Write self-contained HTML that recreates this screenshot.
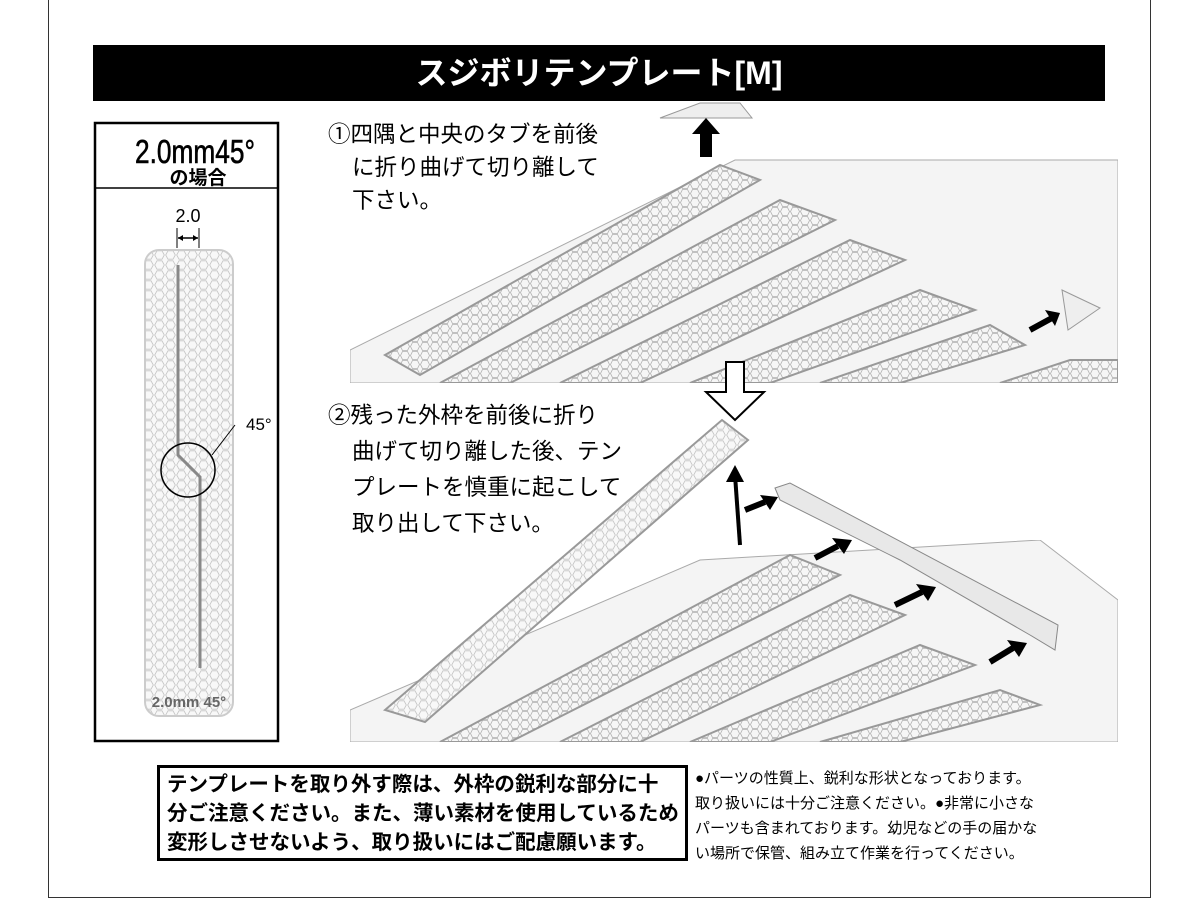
<!DOCTYPE html>
<html><head><meta charset="utf-8"><style>
body{margin:0;background:#fff;width:1200px;height:900px;position:relative;overflow:hidden;font-family:"Liberation Sans","Noto Sans CJK JP",sans-serif;}
.abs{position:absolute;white-space:nowrap;}
</style></head><body>
<div class="abs" style="left:48px;top:-2px;width:1101px;height:898px;border:1px solid #333;"></div>
<div class="abs" style="left:93px;top:45px;width:1012px;height:56px;background:#000;color:#fff;font-size:32px;font-weight:bold;text-align:center;line-height:56px;">スジボリテンプレート[M]</div>

<svg class="abs" style="left:0;top:0" width="1200" height="900">
<defs>
<pattern id="hex" width="10" height="9" patternUnits="userSpaceOnUse">
<rect width="10" height="9" fill="#f6f6f6"/>
<path d="M2.5 0.5 L7.5 0.5 L9.5 4.5 L7.5 8.5 L2.5 8.5 L0.5 4.5Z" fill="none" stroke="#b0b0b0" stroke-width="0.8"/>
</pattern>
<pattern id="hexs" width="11" height="10" patternUnits="userSpaceOnUse">
<rect width="11" height="10" fill="#f8f8f8"/>
<path d="M3 0.8 L8 0.8 L10.3 5 L8 9.2 L3 9.2 L0.7 5Z" fill="none" stroke="#c4c4c4" stroke-width="0.8"/>
</pattern>
<clipPath id="c1"><rect x="350" y="100" width="768" height="283"/></clipPath>
<clipPath id="c2"><rect x="350" y="540" width="768" height="202"/></clipPath>
</defs>

<rect x="95" y="123" width="183" height="618" fill="none" stroke="#000" stroke-width="2.5"/>
<line x1="95" y1="188" x2="278" y2="188" stroke="#000" stroke-width="1.5"/>
<text x="135" y="163" font-size="33" textLength="120" lengthAdjust="spacingAndGlyphs" stroke="#000" stroke-width="0.6">2.0mm45°</text>
<text x="198" y="184" font-size="19" text-anchor="middle" font-weight="bold">の場合</text>
<text x="188" y="222" font-size="18" text-anchor="middle">2.0</text>
<line x1="177" y1="228" x2="177" y2="248" stroke="#000"/><line x1="199" y1="228" x2="199" y2="248" stroke="#000"/>
<path d="M178 238 H198" stroke="#000" stroke-width="1.5"/><path d="M178 238 l5 -3 v6z M198 238 l-5 -3 v6z"/>
<rect x="145" y="250" width="88" height="466" rx="14" fill="url(#hexs)" stroke="#ccc" stroke-width="2"/>
<path d="M178 265 V455 L200 477 V668" stroke="#888" stroke-width="3" fill="none"/>
<circle cx="188" cy="470" r="27" fill="none" stroke="#000" stroke-width="1.5"/>
<path d="M212 455 L235 425" stroke="#000"/>
<text x="246" y="430" font-size="17">45°</text>
<text x="189" y="707" font-size="15" text-anchor="middle" font-weight="bold" fill="#666">2.0mm 45°</text>

<g clip-path="url(#c1)">
<polygon points="350,350 735,160 1118,160 1118,383 350,383" fill="#f4f4f4" stroke="#aaa"/>
<g fill="url(#hex)" stroke="#999" stroke-width="2">
<polygon points="385,355 720,165 760,180 420,375"/>
<polygon points="440,383 780,200 835,220 510,383"/>
<polygon points="560,383 850,240 905,260 640,383"/>
<polygon points="690,383 920,290 975,310 770,383"/>
<polygon points="820,383 990,325 1025,345 900,383"/>
<polygon points="1000,383 1070,360 1118,360 1118,383"/>
</g>
</g>
<polygon points="660,118 700,103 740,103 752,118" fill="#eee" stroke="#999"/>
<rect x="700" y="132" width="12" height="25" fill="#000"/><polygon points="692,134 706,118 720,134"/>
<polygon points="1062,290 1100,308 1068,330" fill="#eee" stroke="#999"/>
<path d="M1030 330 L1052 318" stroke="#000" stroke-width="6"/><polygon points="1045,310 1060,313 1055,326"/>
<polygon points="726,362 744,362 744,392 764,392 735,420 706,392 726,392" fill="#fff" stroke="#000" stroke-width="2"/>

<g clip-path="url(#c2)">
<polygon points="350,742 350,710 700,560 1040,540 1118,600 1118,742" fill="#f4f4f4" stroke="#aaa"/>
<g fill="url(#hex)" stroke="#999" stroke-width="2">
<polygon points="440,742 790,555 840,575 510,742"/>
<polygon points="560,742 850,595 905,615 640,742"/>
<polygon points="690,742 920,645 975,665 770,742"/>
<polygon points="820,742 1000,690 1040,705 900,742"/>
</g>
</g>
<polygon points="385,710 722,420 748,440 425,722" fill="url(#hexs)" stroke="#999" stroke-width="2"/>
<polygon points="775,488 790,483 1058,625 1055,650 1030,635 900,560 780,500" fill="#e8e8e8" stroke="#888"/>
<path d="M740 545 L735 475" stroke="#000" stroke-width="4"/><polygon points="726,482 735,465 744,482"/>
<g stroke="#000" stroke-width="6"><path d="M745 510 L765 502"/><path d="M815 558 L838 546"/><path d="M895 605 L922 592"/><path d="M990 662 L1013 648"/></g>
<g><polygon points="760,495 778,497 770,510"/><polygon points="832,538 852,540 844,554"/><polygon points="916,584 936,587 928,601"/><polygon points="1007,640 1027,643 1019,657"/></g>
</svg>

<div class="abs" style="left:328px;top:118px;font-size:22.5px;line-height:33px;">①四隅と中央のタブを前後<br><span style="padding-left:24px">に折り曲げて切り離して</span><br><span style="padding-left:24px">下さい。</span></div>
<div class="abs" style="left:328px;top:398px;font-size:22.5px;line-height:36px;">②残った外枠を前後に折り<br><span style="padding-left:24px">曲げて切り離した後、テン</span><br><span style="padding-left:24px">プレートを慎重に起こして</span><br><span style="padding-left:24px">取り出して下さい。</span></div>

<div class="abs" style="left:157px;top:765px;width:531px;height:96px;border:3px solid #000;box-sizing:border-box;font-size:20.5px;font-weight:bold;line-height:29px;padding:2px 0 0 7px;">テンプレートを取り外す際は、外枠の鋭利な部分に十<br>分ご注意ください。また、薄い素材を使用しているため<br>変形しさせないよう、取り扱いにはご配慮願います。</div>
<div class="abs" style="left:695px;top:766px;font-size:15px;line-height:25px;">●パーツの性質上、鋭利な形状となっております。<br>取り扱いには十分ご注意ください。●非常に小さな<br>パーツも含まれております。幼児などの手の届かな<br>い場所で保管、組み立て作業を行ってください。</div>
</body></html>
